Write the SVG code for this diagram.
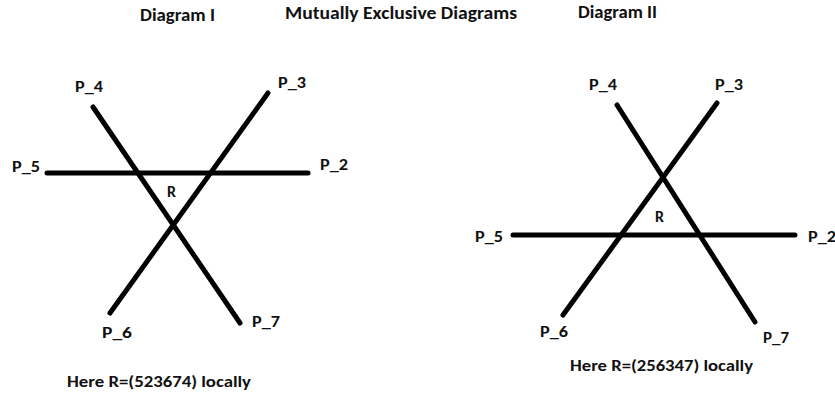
<svg xmlns="http://www.w3.org/2000/svg" width="835" height="396" viewBox="0 0 835 396">
<style>
text{font-family:"Carlito","Open Sans","Liberation Sans",sans-serif;font-weight:bold;fill:#111}
.t{font-size:17px}
.l{font-size:16px}
.e{stroke:#000;stroke-width:5;stroke-linecap:round;fill:none}
</style>
<rect width="835" height="396" fill="#fff"/>
<g id="titles">
<text class="t" x="140" y="21" textLength="75" lengthAdjust="spacingAndGlyphs">Diagram I</text>
<text class="t" x="285" y="19" textLength="232" lengthAdjust="spacingAndGlyphs">Mutually Exclusive Diagrams</text>
<text class="t" x="578" y="18" textLength="79" lengthAdjust="spacingAndGlyphs">Diagram II</text>
</g>
<g id="connectors">
<line class="e" x1="93" y1="107" x2="240" y2="323"/>
<line class="e" x1="268" y1="93" x2="110" y2="313"/>
<line class="e" x1="47" y1="173" x2="308" y2="173"/>
<line class="e" x1="617" y1="105" x2="755" y2="322"/>
<line class="e" x1="717" y1="103" x2="563" y2="315"/>
<line class="e" x1="513" y1="235" x2="795" y2="235"/>
</g>
<g id="diagram1">
<g id="d1-P4"><text class="l" x="75" y="92" textLength="28" lengthAdjust="spacingAndGlyphs">P_4</text></g>
<g id="d1-P3"><text class="l" x="278" y="88" textLength="28" lengthAdjust="spacingAndGlyphs">P_3</text></g>
<g id="d1-P5"><text class="l" x="12" y="172" textLength="28" lengthAdjust="spacingAndGlyphs">P_5</text></g>
<g id="d1-P2"><text class="l" x="320" y="170" textLength="28" lengthAdjust="spacingAndGlyphs">P_2</text></g>
<g id="d1-R"><text class="l" x="167" y="197">R</text></g>
<g id="d1-P6"><text class="l" x="102" y="338" textLength="30" lengthAdjust="spacingAndGlyphs">P_6</text></g>
<g id="d1-P7"><text class="l" x="252" y="327" textLength="28" lengthAdjust="spacingAndGlyphs">P_7</text></g>
<g id="d1-note"><text class="l" x="67" y="387" textLength="184" lengthAdjust="spacingAndGlyphs">Here R=(523674) locally</text></g>
</g>
<g id="diagram2">
<g id="d2-P4"><text class="l" x="589" y="90" textLength="28" lengthAdjust="spacingAndGlyphs">P_4</text></g>
<g id="d2-P3"><text class="l" x="715" y="90" textLength="28" lengthAdjust="spacingAndGlyphs">P_3</text></g>
<g id="d2-P5"><text class="l" x="475" y="242" textLength="28" lengthAdjust="spacingAndGlyphs">P_5</text></g>
<g id="d2-P2"><text class="l" x="808" y="242" textLength="28" lengthAdjust="spacingAndGlyphs">P_2</text></g>
<g id="d2-R"><text class="l" x="655" y="222">R</text></g>
<g id="d2-P6"><text class="l" x="540" y="337" textLength="28" lengthAdjust="spacingAndGlyphs">P_6</text></g>
<g id="d2-P7"><text class="l" x="763" y="343" textLength="26" lengthAdjust="spacingAndGlyphs">P_7</text></g>
<g id="d2-note"><text class="l" x="570" y="371" textLength="183" lengthAdjust="spacingAndGlyphs">Here R=(256347) locally</text></g>
</g>
</svg>
